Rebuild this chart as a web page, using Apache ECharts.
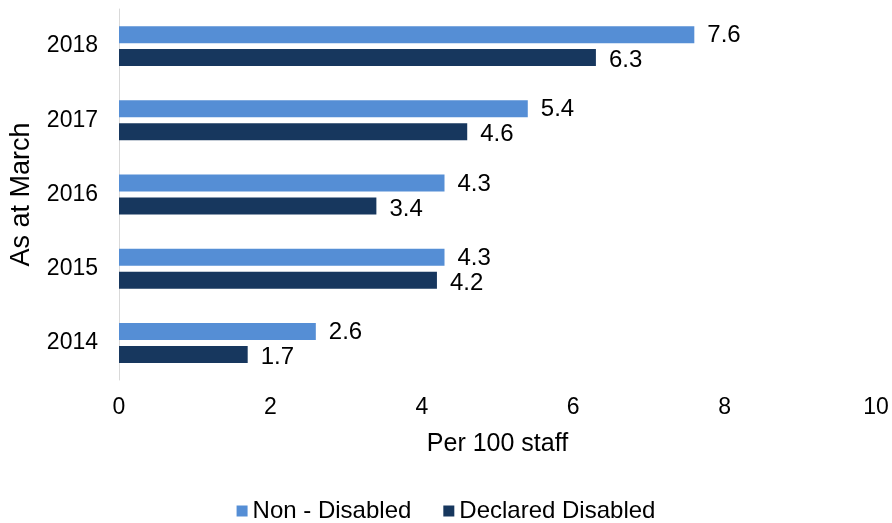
<!DOCTYPE html>
<html><head><meta charset="utf-8">
<script src="https://cdn.jsdelivr.net/npm/echarts@6/dist/echarts.min.js"></script>
<style>html,body{margin:0;padding:0;background:#fff}#c{width:892px;height:523px}</style>
</head><body><div id="c"></div>
<script>
const years = ['2018','2017','2016','2015','2014'];
const nonDisabled = [7.6, 5.4, 4.3, 4.3, 2.6];
const declaredDisabled = [6.3, 4.6, 3.4, 4.2, 1.7];
const xTicks = [0, 2, 4, 6, 8, 10];
const seriesNames = ['Non - Disabled', 'Declared Disabled'];

const font = 'Liberation Sans, Arial, sans-serif';
const chart = echarts.init(document.getElementById('c'));
chart.setOption({
  animation: false,
  grid: {left: 118, right: 16, top: 9, bottom: 143, containLabel: false},
  legend: {
    top: 494, left: 'center', itemWidth: 11, itemHeight: 11, itemGap: 32,
    icon: 'rect',
    textStyle: {fontFamily: font, fontSize: 24, color: '#000'},
    data: seriesNames
  },
  xAxis: {
    type: 'value', min: xTicks[0], max: xTicks[xTicks.length-1], interval: 2,
    name: 'Per 100 staff', nameLocation: 'middle', nameGap: 52,
    nameTextStyle: {fontFamily: font, fontSize: 25, color: '#000'},
    axisLine: {show: false}, axisTick: {show: false}, splitLine: {show: false},
    axisLabel: {fontFamily: font, fontSize: 23, color: '#000', margin: 16}
  },
  yAxis: {
    type: 'category', data: years, inverse: true,
    name: 'As at March', nameLocation: 'middle', nameGap: 84,
    nameTextStyle: {fontFamily: font, fontSize: 27, color: '#000'},
    axisLine: {show: true, lineStyle: {color: '#d9d9d9', width: 1}},
    axisTick: {show: false},
    axisLabel: {fontFamily: font, fontSize: 23, color: '#000', margin: 21}
  },
  series: [
    {name: seriesNames[0], type: 'bar', data: nonDisabled, barWidth: 17, barGap: '35%',
     itemStyle: {color: '#558ED5'},
     label: {show: true, position: 'right', distance: 13, fontFamily: font, fontSize: 24, color: '#000', offset: [0, 1]}},
    {name: seriesNames[1], type: 'bar', data: declaredDisabled, barWidth: 17,
     itemStyle: {color: '#17375E'},
     label: {show: true, position: 'right', distance: 13, fontFamily: font, fontSize: 24, color: '#000', offset: [0, 3]}}
  ]
});
</script></body></html>
